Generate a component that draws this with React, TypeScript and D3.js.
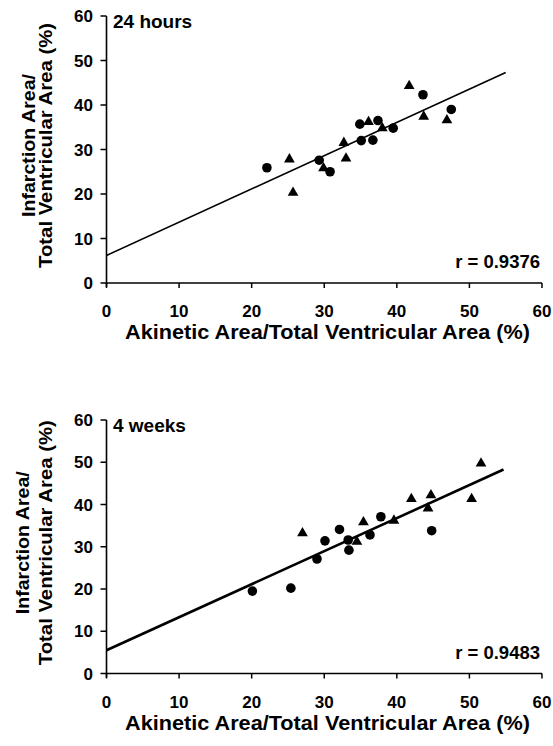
import React from "react";
import * as d3 from "d3";

const xTicks = [0, 10, 20, 30, 40, 50, 60];
const yTicks = [0, 10, 20, 30, 40, 50, 60];

// 24 hours
const h24Circles: [number, number][] = [
  [22.1, 25.9], [29.3, 27.6], [30.8, 25.0], [34.9, 35.7], [35.1, 32.0],
  [36.7, 32.1], [37.4, 36.5], [39.5, 34.8], [43.6, 42.3], [47.5, 39.0],
];
const h24Triangles: [number, number][] = [
  [41.7, 44.3], [25.2, 27.8], [25.7, 20.3], [29.9, 25.8], [32.7, 31.5],
  [33.0, 28.0], [36.1, 36.2], [38.0, 34.8], [43.7, 37.4], [46.9, 36.6],
];
const h24Fit = { intercept: 6.2, slope: 0.747, xEnd: 55 };

// 4 weeks
const w4Circles: [number, number][] = [
  [20.1, 19.5], [25.4, 20.2], [29.0, 27.1], [30.1, 31.4], [32.1, 34.1],
  [33.3, 31.6], [33.4, 29.2], [36.3, 32.8], [37.8, 37.1], [44.8, 33.8],
];
const w4Triangles: [number, number][] = [
  [27.0, 33.2], [34.5, 31.2], [35.4, 35.8], [39.6, 36.2], [42.0, 41.3],
  [44.7, 42.2], [44.3, 39.1], [50.3, 41.3], [51.6, 49.7],
];
const w4Fit = { intercept: 5.5, slope: 0.782, xEnd: 54.7 };

const FONT = "'Liberation Sans', Arial, Helvetica, sans-serif";

type PanelProps = {
  top: number;
  bottom: number;
  circles: [number, number][];
  triangles: [number, number][];
  fit: { intercept: number; slope: number; xEnd: number };
  label: string;
  r: string;
  lineWidth: number;
  yTitleX1: number;
  yTitleX2: number;
};

function Panel(p: PanelProps) {
  const x = d3.scaleLinear().domain([0, 60]).range([106.5, 542]);
  const y = d3.scaleLinear().domain([0, 60]).range([p.bottom, p.top]);
  const tri = d3.symbol().type(d3.symbolTriangle).size(50)();
  const line = d3
    .line<number>()
    .x((d) => x(d))
    .y((d) => y(p.fit.intercept + p.fit.slope * d));
  const cy = (p.top + p.bottom) / 2 - 4;
  return (
    <g>
      <line x1={x(0)} x2={x(0)} y1={y(60)} y2={y(0) + 4} stroke="#000" strokeWidth={1.6} />
      <line x1={x(0)} x2={x(60)} y1={y(0)} y2={y(0)} stroke="#000" strokeWidth={1.6} />
      {yTicks.map((t) => (
        <g key={"y" + t}>
          <line x1={x(0) - 6} x2={x(0)} y1={y(t)} y2={y(t)} stroke="#000" strokeWidth={1.5} />
          <text x={93} y={y(t) + 6} textAnchor="end" fontFamily={FONT} fontWeight="bold" fontSize={17}>
            {t}
          </text>
        </g>
      ))}
      {xTicks.map((t) => (
        <g key={"x" + t}>
          <line x1={x(t)} x2={x(t)} y1={y(0)} y2={y(0) + 5} stroke="#000" strokeWidth={1.5} />
          <text x={x(t)} y={y(0) + 34} textAnchor="middle" fontFamily={FONT} fontWeight="bold" fontSize={17}>
            {t}
          </text>
        </g>
      ))}
      <text
        x={327.5}
        y={y(0) + 56}
        textAnchor="middle"
        fontFamily={FONT}
        fontWeight="bold"
        fontSize={20}
        textLength={405}
        lengthAdjust="spacingAndGlyphs"
      >
        Akinetic Area/Total Ventricular Area (%)
      </text>
      <text
        transform={`translate(${p.yTitleX1},${cy}) rotate(-90)`}
        textAnchor="middle"
        fontFamily={FONT}
        fontWeight="bold"
        fontSize={19}
        textLength={143}
        lengthAdjust="spacingAndGlyphs"
      >
        Infarction Area/
      </text>
      <text
        transform={`translate(${p.yTitleX2},${cy}) rotate(-90)`}
        textAnchor="middle"
        fontFamily={FONT}
        fontWeight="bold"
        fontSize={19}
        textLength={245}
        lengthAdjust="spacingAndGlyphs"
      >
        Total Ventricular Area (%)
      </text>
      <path d={line([0, p.fit.xEnd]) || ""} fill="none" stroke="#000" strokeWidth={p.lineWidth} />
      {p.circles.map((d, i) => (
        <circle key={"c" + i} cx={x(d[0])} cy={y(d[1])} r={4.8} fill="#000" />
      ))}
      {p.triangles.map((d, i) => (
        <path key={"t" + i} d={tri || ""} transform={`translate(${x(d[0])},${y(d[1])})`} fill="#000" />
      ))}
      <text x={113} y={p.top + 12} fontFamily={FONT} fontWeight="bold" fontSize={19}>
        {p.label}
      </text>
      <text x={540} y={p.bottom - 15} textAnchor="end" fontFamily={FONT} fontWeight="bold" fontSize={18.5}>
        {p.r}
      </text>
    </g>
  );
}

export default function App() {
  return (
    <svg
      width={553}
      height={746}
      style={{ position: "absolute", left: 0, top: 0, background: "#fff" }}
    >
      <rect width={553} height={746} fill="#fff" />
      <Panel
        top={16}
        bottom={283}
        circles={h24Circles}
        triangles={h24Triangles}
        fit={h24Fit}
        label="24 hours"
        r="r = 0.9376"
        lineWidth={1.6}
        yTitleX1={34.5}
        yTitleX2={52}
      />
      <Panel
        top={420}
        bottom={673.5}
        circles={w4Circles}
        triangles={w4Triangles}
        fit={w4Fit}
        label="4 weeks"
        r="r = 0.9483"
        lineWidth={2.6}
        yTitleX1={29}
        yTitleX2={52}
      />
    </svg>
  );
}
